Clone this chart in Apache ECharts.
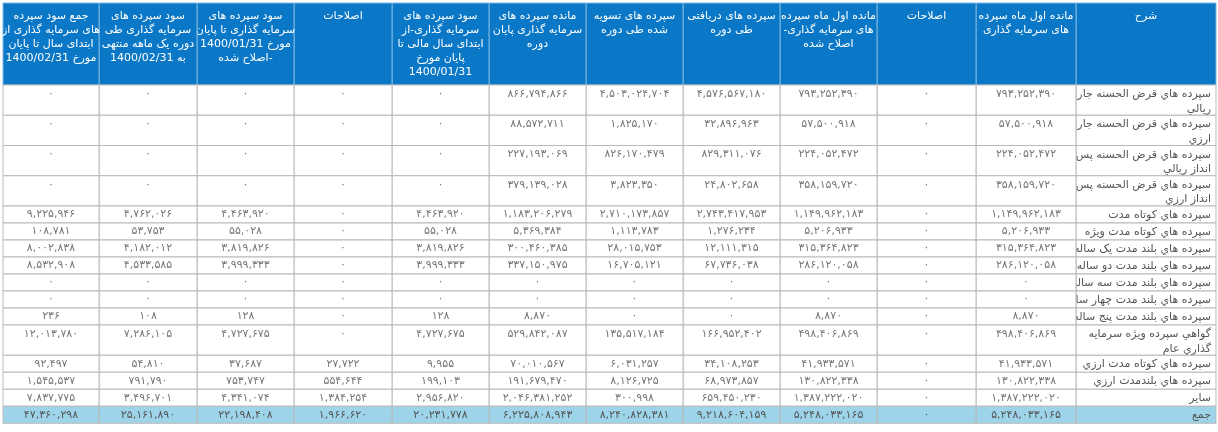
<!DOCTYPE html>
<html><head><meta charset="utf-8">
<script src="https://cdn.jsdelivr.net/npm/echarts@6/dist/echarts.min.js"></script>
<style>html,body{margin:0;padding:0;background:#fff}#c{width:1218px;height:432px}</style>
</head><body><div id="c" dir="rtl"></div>
<script>
// Column headers, right to left
const headers = [
 "شرح",
 "مانده اول ماه سپرده\nهای سرمایه گذاری",
 "اصلاحات",
 "مانده اول ماه سپرده\nهای سرمایه گذاری-\nاصلاح شده",
 "سپرده های دریافتی\nطی دوره",
 "سپرده های تسویه\nشده طی دوره",
 "مانده سپرده های\nسرمایه گذاری پایان\nدوره",
 "سود سپرده های\nسرمایه گذاری-از\nابتدای سال مالی تا\nپایان مورخ\n1400/01/31",
 "اصلاحات",
 "سود سپرده های\nسرمایه گذاری تا پایان\nمورخ 1400/01/31\n-اصلاح شده",
 "سود سپرده های\nسرمایه گذاری طی\nدوره یک ماهه منتهی\nبه 1400/02/31",
 "جمع سود سپرده\nهای سرمایه گذاری از\nابتدای سال تا پایان\nمورخ 1400/02/31"
];
const rowLabels = [
 "سپرده هاي قرض الحسنه جاري\nريالي","سپرده هاي قرض الحسنه جاري\nارزي",
 "سپرده هاي قرض الحسنه پس\nانداز ريالي","سپرده هاي قرض الحسنه پس\nانداز ارزي",
 "سپرده هاي کوتاه مدت","سپرده هاي کوتاه مدت ويژه","سپرده هاي بلند مدت يک ساله",
 "سپرده هاي بلند مدت دو ساله","سپرده هاي بلند مدت سه ساله","سپرده هاي بلند مدت چهار ساله",
 "سپرده هاي بلند مدت پنج ساله","گواهي سپرده ويژه سرمايه\nگذاري عام",
 "سپرده هاي کوتاه مدت ارزي","سپرده هاي بلندمدت ارزي","ساير","جمع"
];
const openingBalance = [793252390,57500918,224052472,358159720,1149962183,5206933,315364823,286120058,0,0,8870,498406869,41933571,130822338,1387222020,5248033165];
const openingAdjust = [0,0,0,0,0,0,0,0,0,0,0,0,0,0,0,0];
const openingAdjusted = [793252390,57500918,224052472,358159720,1149962183,5206933,315364823,286120058,0,0,8870,498406869,41933571,130822338,1387222020,5248033165];
const received = [4576567180,32896963,829311076,24802658,2743417953,1276234,12111315,67736038,0,0,0,166952402,34108253,68973857,659450230,9218604159];
const settled = [4503024704,1825170,826170479,3823350,2710173857,1113783,28015753,16705121,0,0,0,135517184,6031257,8126725,300998,8240828381];
const closing = [866794866,88572711,227193069,379139028,1183206279,5369384,300460385,337150975,0,0,8870,529842087,70010567,191679470,2046381252,6225808943];
const interestTo0131 = [0,0,0,0,4463920,55028,3819826,3999333,0,0,128,4727675,9955,199103,2956820,20231778];
const interestAdjust = [0,0,0,0,0,0,0,0,0,0,0,0,27722,554644,1384254,1966620];
const interestAdjusted = [0,0,0,0,4463920,55028,3819826,3999333,0,0,128,4727675,37687,753747,4341074,22198408];
const interestMonth = [0,0,0,0,4762026,53753,4182012,4533585,0,0,108,7286105,54810,791790,3496701,25161890];
const interestTotal = [0,0,0,0,9225946,108781,8002838,8532908,0,0,236,12013780,92497,1545537,7837775,47360298];

const dataCols = [openingBalance,openingAdjust,openingAdjusted,received,settled,closing,interestTo0131,interestAdjust,interestAdjusted,interestMonth,interestTotal];
const fa = '۰۱۲۳۴۵۶۷۸۹';
function fmt(v){return v.toLocaleString('en-US').replace(/\d/g,d=>fa[+d]);}

// layout (right to left column edges)
const edges = [1216,1076,976,877,780,683,586,489,392,294,197,99,3];
const headTop = 3, headBottom = 85;
const rowH = rowLabels.map(l => l.includes('\n') ? 30.25 : 17);
const FONT = '"DejaVu Sans", Tahoma, sans-serif';
const g = [];
// header
for (let c=0;c<12;c++){
  const x1 = edges[c+1], x2 = edges[c];
  g.push({type:'rect',shape:{x:x1,y:headTop,width:x2-x1,height:headBottom-headTop},style:{fill:'#0a78c6',stroke:'#7db7e3',lineWidth:1},silent:true});
  g.push({type:'text',x:(x1+x2)/2,y:headTop+6,style:{text:headers[c],fill:'#fff',font:'11px '+FONT,align:'center',verticalAlign:'top',lineHeight:14},silent:true});
}
let y = headBottom;
for (let r=0;r<rowLabels.length;r++){
  const h = rowH[r], last = r===rowLabels.length-1;
  const two = h>20;
  for (let c=0;c<12;c++){
    const x1 = edges[c+1], x2 = edges[c];
    g.push({type:'rect',shape:{x:x1,y:y,width:x2-x1,height:h},style:{fill:last?'#9dd4ea':'#fff',stroke:'#b9b9b9',lineWidth:1},silent:true});
    if (c===0){
      g.push({type:'text',x:x2-5,y:y+2,style:{text:rowLabels[r],fill:'#555',font:'11px '+FONT,align:'right',verticalAlign:'top',lineHeight:14.5},silent:true});
    } else {
      g.push({type:'text',x:(x1+x2)/2,y:two?y+9:y+h/2,style:{text:fmt(dataCols[c-1][r]),fill:last?'#555':'#777',font:'11px '+FONT,align:'center',verticalAlign:'middle'},silent:true});
    }
  }
  y += h;
}
const chart = echarts.init(document.getElementById('c'));
chart.setOption({animation:false,graphic:{elements:g}});
</script></body></html>
